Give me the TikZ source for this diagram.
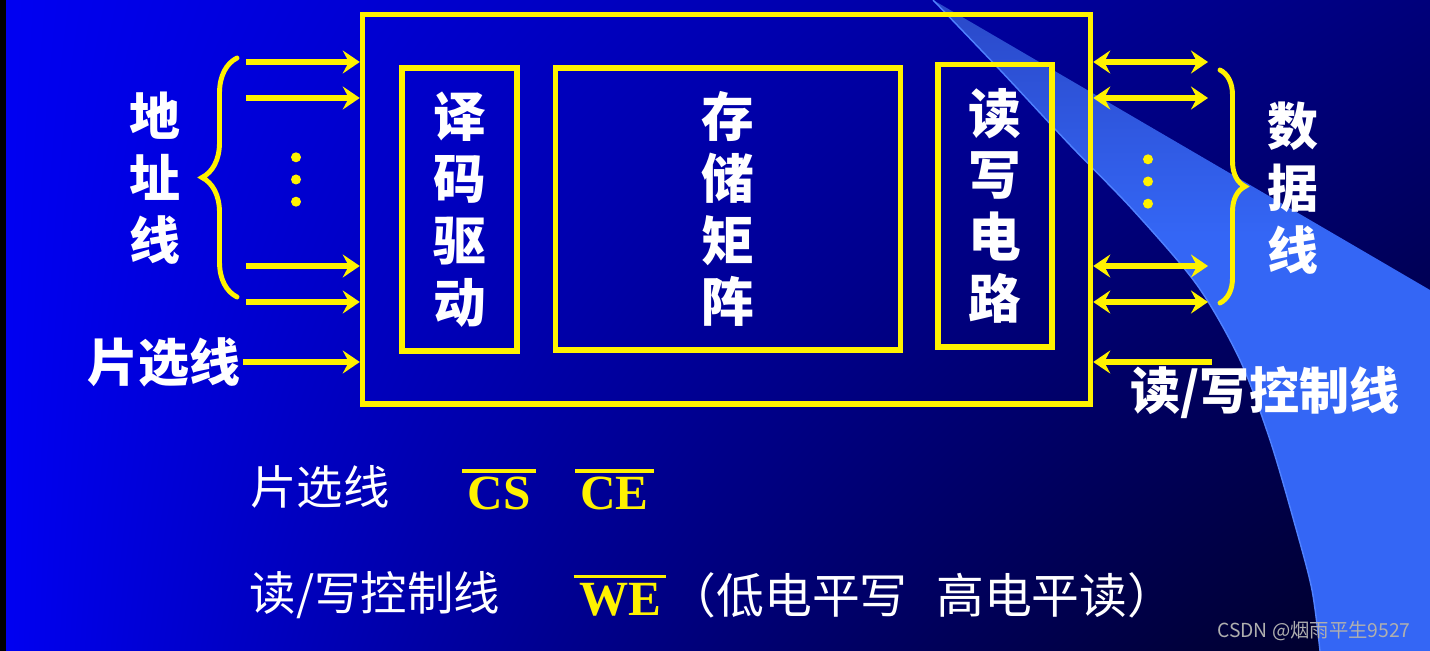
\documentclass[tikz,border=0pt]{standalone}
\usepackage{fontspec}
\setmainfont{Liberation Serif}
\newfontfamily\cjk{Noto Sans CJK SC}
\usetikzlibrary{positioning,arrows.meta,decorations.pathreplacing,calc}

\definecolor{swoosh}{RGB}{52,102,245}
\definecolor{swooshtop}{RGB}{42,72,200}
\definecolor{swooshedge}{RGB}{80,130,255}
\definecolor{wmgray}{RGB}{175,175,175}
\pgfdeclareverticalshading{swooshfade}{100bp}{color(0bp)=(swoosh); color(57bp)=(swoosh); color(75bp)=(swooshtop); color(100bp)=(swooshtop)}
\pgfdeclarefunctionalshading{slidebg}{\pgfpoint{0bp}{0bp}}{\pgfpoint{100bp}{100bp}}{}{
  25 sub 50 div exch 25 sub 50 div
  dup 0.47 mul 0.95 exch sub
  3 1 roll exch 1 exch sub
  mul 0.7 mul 1 exch sub mul
  0 0 3 -1 roll
}

\newcommand\negsig[1]{\setbox0\hbox{#1}\vbox{\hrule height 2pt\kern 2.6pt\hbox{\kern 3pt\box0\kern 3pt}}}

\tikzset{
  chipbox/.style={draw=yellow, line width=3.2pt, inner sep=0pt},
  partbox/.style={chipbox, text=white, align=center, font=\cjk\bfseries\fontsize{30}{35.2}\selectfont},
  busarrow/.style={draw=yellow, line width=3.7pt, -{Stealth[length=0.34cm, width=0.46cm, inset=0.12cm]}},
  duplexarrow/.style={busarrow, {Stealth[length=0.34cm, width=0.46cm, inset=0.12cm]}-{Stealth[length=0.34cm, width=0.46cm, inset=0.12cm]}},
  dotmark/.style={circle, fill=yellow, minimum size=0.2cm, inner sep=0pt},
  curly/.style={draw=yellow, line width=2.8pt, line cap=round, decorate},
  sidelabel/.style={text=white, align=center, inner sep=0pt, font=\cjk\bfseries\fontsize{29}{35.2}\selectfont},
  notetext/.style={text=white, font=\cjk\fontsize{26.4}{30}\selectfont},
  sigtext/.style={text=yellow, inner sep=0pt, font=\bfseries\fontsize{28}{30}\selectfont}
}

\begin{document}
\begin{tikzpicture}[x=0.02cm, y=-0.02cm]
\useasboundingbox (0,0) rectangle (1430,651);
\shade[shading=slidebg] (0,0) rectangle (1430,651);
\fill[black] (0,0) rectangle (6,651);
\shade[shading=swooshfade] (933,0) -- (1430,290) -- (1430,651) -- (1320,651)
  -- plot[smooth] coordinates {(1320,651) (1312,590) (1295,525) (1270,440) (1240,360) (1197,285) (1133,210) (1070,145) (1000,70) (933,0)} -- cycle;
\draw[swooshedge, line width=0.8pt] plot[smooth] coordinates {(1320,651) (1312,590) (1295,525) (1270,440) (1240,360) (1197,285) (1133,210) (1070,145) (1000,70) (933,0)};

\node[chipbox, minimum width=14.56cm, minimum height=7.79cm] (chip) at (726.5,209.25) {};
\node[partbox, minimum width=2.3cm, minimum height=5.66cm] (dec) at (459.5,209.5) {译\\码\\驱\\动};
\node[partbox, minimum width=6.9cm, minimum height=5.64cm] (mat) at (728,209) {存\\储\\矩\\阵};
\node[partbox, minimum width=2.28cm, minimum height=5.65cm] (rw) at (995,205.75) {读\\写\\电\\路};

\foreach \name/\y in {a1/62, a2/98, a3/266, a4/302} {
  \coordinate (\name) at (246,\y);
  \draw[busarrow] (\name) -- (\name -| chip.west);
}
\foreach \name/\y in {d1/62, d2/98, d3/266, d4/302} {
  \coordinate (\name) at (1208,\y);
  \draw[duplexarrow] (chip.east |- \name) -- (\name);
}
\coordinate (csin) at (243,362);
\draw[busarrow] (csin) -- (csin -| chip.west);
\coordinate (wein) at (1212,362);
\draw[busarrow] (wein) -- (wein -| chip.east);

\node[dotmark] (ld2) at (296,179.5) {};
\node[dotmark, above=0.23cm of ld2] (ld1) {};
\node[dotmark, below=0.23cm of ld2] (ld3) {};
\node[dotmark] (rd2) at (1148,181.5) {};
\node[dotmark, above=0.23cm of rd2] (rd1) {};
\node[dotmark, below=0.23cm of rd2] (rd3) {};

\coordinate (lb1) at (237,58);
\coordinate (lb2) at (237,297);
\draw[curly, decoration={brace, amplitude=0.7cm}] (lb2) -- (lb1);
\coordinate (rb1) at (1220,70);
\coordinate (rb2) at (1220,303);
\draw[curly, decoration={brace, amplitude=0.5cm}] (rb1) -- (rb2);

\node[sidelabel] (addr) at (155,178) {地\\址\\线};
\node[sidelabel] (data) at (1293,188) {数\\据\\线};
\node[sidelabel, left=0.04cm of csin] (cslabel) {片选线};
\node[sidelabel, font=\cjk\bfseries\fontsize{28.5}{30}\selectfont] (welabel) at (1265,393) {读/写控制线};

\node[notetext] (csnote) at (320,487) {片选线};
\node[sigtext, anchor=base] (csbar) at (499,510) {\negsig{CS}};
\node[sigtext, anchor=base] (cebar) at (614.5,510) {\negsig{CE}};
\node[notetext] (wenote) at (375,595) {读/写控制线};
\node[sigtext, anchor=base] (webar) at (620,615) {\negsig{WE}};
\node[notetext, font=\cjk\fontsize{27.2}{30}\selectfont] (welevel) at (922,595) {（低电平写\hspace{0.6em}高电平读）};

\node[text=wmgray, font=\cjk\fontsize{11}{13}\selectfont] (mark) at (1314,631) {CSDN @烟雨平生9527};
\end{tikzpicture}
\end{document}
